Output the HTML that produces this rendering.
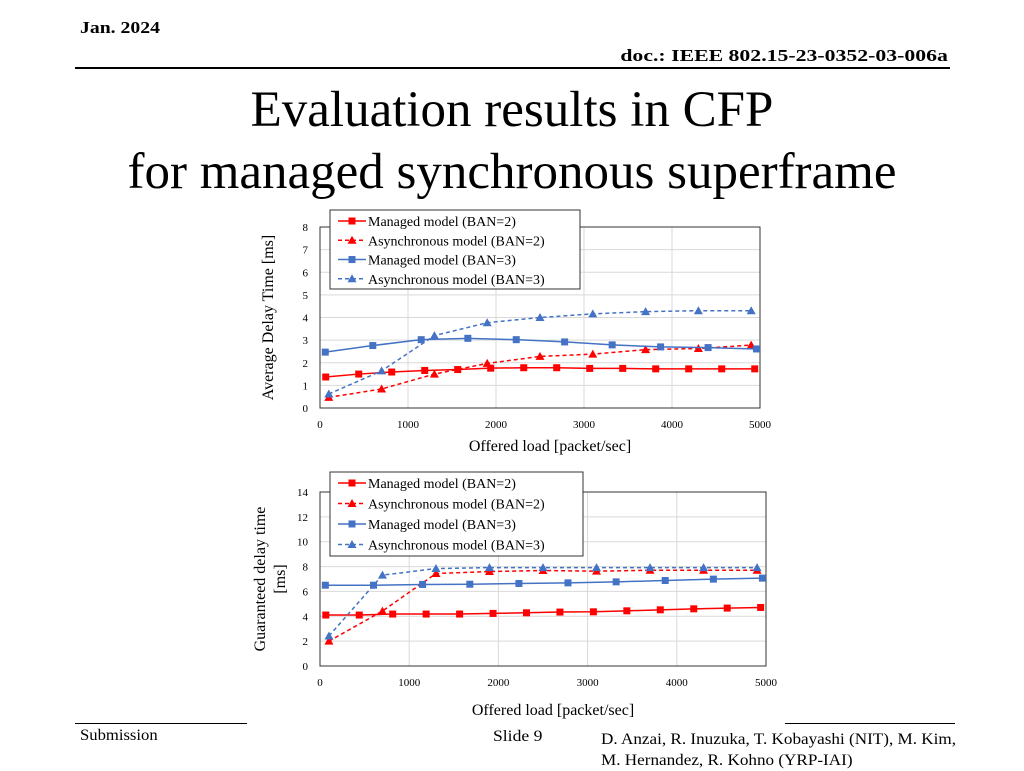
<!DOCTYPE html>
<html><head><meta charset="utf-8">
<style>
body{margin:0;width:1024px;height:768px;background:#fff;overflow:hidden;font-family:"Liberation Serif",serif;}
.abs{position:absolute;white-space:nowrap;}
</style></head>
<body>
<div class="abs" style="left:80px;top:18px;font-size:17px;font-weight:bold;transform:scaleX(1.16);transform-origin:left top;">Jan. 2024</div>
<div class="abs" style="right:76px;top:46px;font-size:17px;font-weight:bold;transform:scaleX(1.28);transform-origin:right top;">doc.: IEEE 802.15-23-0352-03-006a</div>
<div class="abs" style="left:75px;top:67px;width:875px;height:2px;background:#000;"></div>
<div class="abs" style="left:0;width:1024px;top:79px;text-align:center;font-size:51px;line-height:62px;">Evaluation results in CFP<br>for managed synchronous superframe</div>
<svg id="charts" width="1024" height="768" style="position:absolute;left:0;top:0;"></svg>
<div class="abs" style="left:75px;top:723px;width:172px;height:1px;background:#000;"></div>
<div class="abs" style="left:785px;top:723px;width:170px;height:1px;background:#000;"></div>
<div class="abs" style="left:80px;top:727px;font-size:16px;transform:scaleX(1.04);transform-origin:left top;">Submission</div>
<div class="abs" style="left:493px;top:728px;font-size:16px;transform:scaleX(1.1);transform-origin:left top;">Slide 9</div>
<div class="abs" style="left:601px;top:729px;font-size:16px;line-height:21px;transform:scaleX(1.07);transform-origin:left top;">D. Anzai, R. Inuzuka, T. Kobayashi (NIT), M. Kim,<br>M. Hernandez, R. Kohno (YRP-IAI)</div>
<script>
const xManaged=[65,440,815,1190,1565,1940,2315,2690,3065,3440,3815,4190,4565,4940];
const xAsync=[100,700,1300,1900,2500,3100,3700,4300,4900];
const xManaged3=[60,600,1150,1680,2230,2780,3320,3870,4410,4960];
const xTicks=[0,1000,2000,3000,4000,5000];
const seriesNames=["Managed model (BAN=2)","Asynchronous model (BAN=2)","Managed model (BAN=3)","Asynchronous model (BAN=3)"];
// chart 1: average delay
const avgM2=[1.37,1.50,1.59,1.66,1.70,1.76,1.78,1.78,1.75,1.75,1.73,1.73,1.73,1.73];
const avgA2=[0.47,0.84,1.50,1.97,2.28,2.38,2.58,2.63,2.78];
const avgM3=[2.47,2.76,3.02,3.08,3.02,2.92,2.79,2.70,2.67,2.61];
const avgA3=[0.62,1.64,3.20,3.77,4.00,4.16,4.26,4.30,4.30];
const avgYTicks=[0,1,2,3,4,5,6,7,8];
// chart 2: guaranteed delay
const gM2=[4.10,4.10,4.18,4.18,4.18,4.23,4.28,4.34,4.36,4.44,4.52,4.60,4.66,4.71];
const gA2=[2.0,4.42,7.44,7.60,7.68,7.63,7.70,7.70,7.70];
const gM3=[6.50,6.50,6.56,6.58,6.64,6.69,6.77,6.88,6.99,7.07];
const gA3=[2.41,7.31,7.84,7.92,7.92,7.92,7.92,7.92,7.92];
const gYTicks=[0,2,4,6,8,10,12,14];

const NS="http://www.w3.org/2000/svg";
const svg=document.getElementById('charts');
function mk(tag,attrs,parent){const e=document.createElementNS(NS,tag);for(const k in attrs)e.setAttribute(k,attrs[k]);(parent||svg).appendChild(e);return e;}
function txt(s,attrs,parent){const t=mk('text',attrs,parent);t.textContent=s;return t;}
function marker(g,type,x,y,color){
  if(type==='sq'){const r=mk('rect',{x:x-3.5,y:y-3.5,width:7,height:7,fill:color},g);return r;}
  const p=mk('polygon',{points:`${x},${y-4.5} ${x-4.5},${y+3.5} ${x+4.5},${y+3.5}`,fill:color},g);return p;
}
function chart(cfg){
  const g=mk('g',{});
  
  
  const xs=v=>cfg.L+(v/5000)*(cfg.R-cfg.L);
  const ys=v=>cfg.B-(v/cfg.ymax)*(cfg.B-cfg.T);
  cfg.yTicks.forEach(t=>{
    const l=mk('line',{x1:cfg.L,x2:cfg.R,y1:ys(t),y2:ys(t),stroke:'#d9d9d9','stroke-width':1},g);
    
    
    const lb=txt(String(t),{x:cfg.L-12,y:ys(t)+4,'font-size':11,'text-anchor':'end','font-family':'Liberation Serif, serif'},g);
    
    
  });
  xTicks.forEach(t=>{
    const l=mk('line',{x1:xs(t),x2:xs(t),y1:cfg.T,y2:cfg.B,stroke:'#d9d9d9','stroke-width':1},g);
    
    
    const lb=txt(String(t),{x:xs(t),y:cfg.B+20,'font-size':11,'text-anchor':'middle','font-family':'Liberation Serif, serif'},g);
    
    
  });
  const box=mk('rect',{x:cfg.L,y:cfg.T,width:cfg.R-cfg.L,height:cfg.B-cfg.T,fill:'none',stroke:'#333','stroke-width':1},g);
  
  
  const series=[
    {x:xManaged,y:cfg.d[0],c:'#ff0000',m:'sq',dash:null},
    {x:xAsync,y:cfg.d[1],c:'#ff0000',m:'tri',dash:'4,3'},
    {x:xManaged3,y:cfg.d[2],c:'#4472c4',m:'sq',dash:null},
    {x:xAsync,y:cfg.d[3],c:'#4472c4',m:'tri',dash:'4,3'}];
  series.forEach((s,i)=>{
    const sg=mk('g',{},g);
    
    
    const pts=s.x.map((xv,j)=>xs(xv)+','+ys(s.y[j])).join(' ');
    const a={points:pts,fill:'none',stroke:s.c,'stroke-width':1.5};
    if(s.dash)a['stroke-dasharray']=s.dash;
    const pl=mk('polyline',a,sg);
    
    
    s.x.forEach((xv,j)=>{
      const mkr=marker(sg,s.m,xs(xv),ys(s.y[j]),s.c);
      
      
    });
  });
  const lg=mk('g',{},g);
  
  
  mk('rect',{x:cfg.lx,y:cfg.ly,width:cfg.lw,height:cfg.lh,fill:'#fff',stroke:'#333','stroke-width':1},lg);
  series.forEach((s,i)=>{
    const yy=cfg.ly+11+i*cfg.lh/4.1;
    const e=mk('g',{},lg);
    
    
    const a={x1:cfg.lx+8,x2:cfg.lx+36,y1:yy,y2:yy,stroke:s.c,'stroke-width':1.5};
    if(s.dash)a['stroke-dasharray']=s.dash;
    mk('line',a,e);
    marker(e,s.m,cfg.lx+22,yy,s.c);
    txt(seriesNames[i],{x:cfg.lx+38,y:yy+5,'font-size':14,'font-family':'Liberation Serif, serif'},e);
  });
  const xt=txt('Offered load [packet/sec]',{x:(cfg.L+cfg.R)/2+10,y:cfg.xTitleY,'font-size':16,'text-anchor':'middle','font-family':'Liberation Serif, serif'},g);
  
  
  const cy=(cfg.T+cfg.B)/2;
  cfg.yTitle.forEach((line,k)=>{
    const yt=txt(line,{x:cfg.yTitleX+k*20,y:cy,'font-size':16,'text-anchor':'middle','font-family':'Liberation Serif, serif',transform:`rotate(-90 ${cfg.yTitleX+k*20} ${cy})`},g);
    
    
  });
}
chart({name:'average-delay-chart',L:320,R:760,T:227,B:408,ymax:8,yTicks:avgYTicks,d:[avgM2,avgA2,avgM3,avgA3],lx:330,ly:210,lw:250,lh:79,xTitleY:451,yTitle:['Average Delay Time [ms]'],yTitleX:273});
chart({name:'guaranteed-delay-chart',L:320,R:766,T:492,B:666,ymax:14,yTicks:gYTicks,d:[gM2,gA2,gM3,gA3],lx:330,ly:472,lw:253,lh:84,xTitleY:715,yTitle:['Guaranteed delay time','[ms]'],yTitleX:265});
</script>
</body></html>
